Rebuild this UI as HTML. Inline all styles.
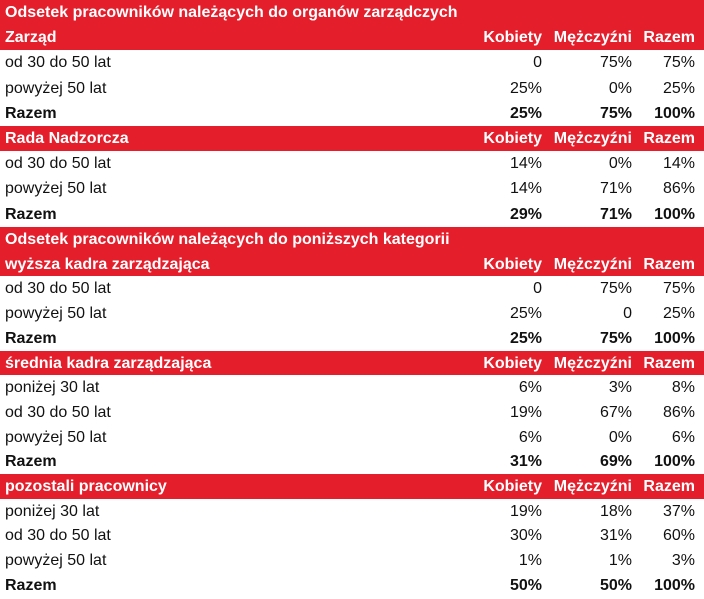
<!DOCTYPE html>
<html><head><meta charset="utf-8"><style>
body{margin:0;width:704px;height:597px;background:#fff;font-family:"Liberation Sans",sans-serif;font-size:16px;color:#111;overflow:hidden;position:relative}
.r{position:absolute;left:0;width:704px}
.red{background:#e41e2b;color:#fff;font-weight:bold}
.b{font-weight:bold}
.l{position:absolute;left:5px}
.c{position:absolute;text-align:right}
.k{right:162px}.m{right:72px}.z{right:9px}
</style></head><body>
<script>
const rows=[
["red","Odsetek pracowników należących do organów zarządczych"],
["red","Zarząd","Kobiety","Mężczyźni","Razem"],
["","od 30 do 50 lat","0","75%","75%"],
["","powyżej 50 lat","25%","0%","25%"],
["b","Razem","25%","75%","100%"],
["red","Rada Nadzorcza","Kobiety","Mężczyźni","Razem"],
["","od 30 do 50 lat","14%","0%","14%"],
["","powyżej 50 lat","14%","71%","86%"],
["b","Razem","29%","71%","100%"],
["red","Odsetek pracowników należących do poniższych kategorii"],
["red","wyższa kadra zarządzająca","Kobiety","Mężczyźni","Razem"],
["","od 30 do 50 lat","0","75%","75%"],
["","powyżej 50 lat","25%","0","25%"],
["b","Razem","25%","75%","100%"],
["red","średnia kadra zarządzająca","Kobiety","Mężczyźni","Razem"],
["","poniżej 30 lat","6%","3%","8%"],
["","od 30 do 50 lat","19%","67%","86%"],
["","powyżej 50 lat","6%","0%","6%"],
["b","Razem","31%","69%","100%"],
["red","pozostali pracownicy","Kobiety","Mężczyźni","Razem"],
["","poniżej 30 lat","19%","18%","37%"],
["","od 30 do 50 lat","30%","31%","60%"],
["","powyżej 50 lat","1%","1%","3%"],
["b","Razem","50%","50%","100%"]
];
rows.forEach((r,i)=>{
  const top=i<9? i*25.2 : 227+(i-9)*24.7;
  const h=i<9?25.2:24.7;
  const d=document.createElement('div');
  d.className='r '+r[0];
  d.style.top=top+'px';d.style.height=h+'px';d.style.lineHeight=(h+1)+'px';
  
  
  const l=document.createElement('span');l.className='l';l.textContent=r[1];
  
  
  d.appendChild(l);
  ['k','m','z'].forEach((c,j)=>{ if(r[j+2]!==undefined){
    const s=document.createElement('span');s.className='c '+c;s.textContent=r[j+2];
    
    
    d.appendChild(s);} });
  document.body.appendChild(d);
});
</script>
</body></html>
